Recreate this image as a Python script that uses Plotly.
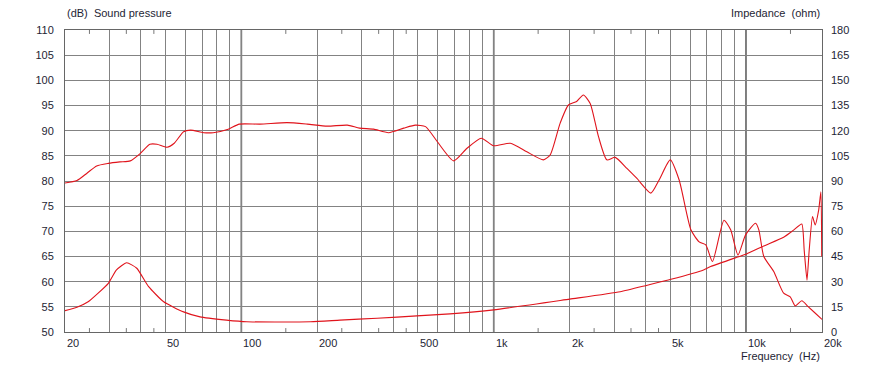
import math
import plotly.graph_objects as go

# ---- data ----
spl_freq = [20, 22.3, 24.5, 26.7, 29.7, 33, 36.3, 39.6, 43.4, 46.3, 50.7, 54.2, 59, 62.9,
            70.9, 77.3, 88.7, 98.1, 118.6, 151.6, 182.6, 219, 263, 294, 334, 383, 440,
            489, 537, 596, 694, 784, 893, 999, 1164, 1353, 1574, 1675, 1834, 1978, 2131,
            2266, 2412, 2602, 2808, 3030, 3372, 3695, 4198, 4523, 5007, 5432, 6046, 6522,
            6927, 7360, 8176, 8691, 9292, 9960, 10909, 11239, 11762, 12876, 14094, 14968,
            15660, 16633, 17670, 19800, 20000]
spl_db = [79.6, 80.1, 81.6, 83.0, 83.5, 83.8, 84.0, 85.4, 87.3, 87.3, 86.7, 87.5, 89.8, 90.1,
          89.6, 89.6, 90.3, 91.3, 91.3, 91.6, 91.3, 90.9, 91.1, 90.5, 90.3, 89.6, 90.5,
          91.1, 90.8, 87.9, 84.0, 86.5, 88.5, 87.0, 87.5, 85.8, 84.2, 85.2, 91.5, 95.1, 95.8,
          97.1, 95.4, 88.8, 84.2, 84.7, 82.5, 80.5, 77.6, 80.2, 84.2, 80.2, 70.3, 67.9,
          67.3, 64.0, 72.2, 70.3, 65.3, 69.3, 71.6, 70.3, 65.0, 62.0, 57.7, 57.0,
          55.2, 56.2, 55.0, 52.7, 52.5]

imp_freq = [20, 22.3, 24.7, 27, 29.7, 32, 35.1, 38.5, 42.9, 49.2, 59, 68.6, 87.3, 105, 188,
            246, 345, 496, 671, 1000, 2000, 3172, 4060, 5040, 6785, 7240, 9190, 10050,
            11762, 14094, 15326, 16633, 17000, 17441, 17800, 18341, 18792, 19400, 19800, 19950]
imp_ohm = [12.7, 14.7, 18, 23, 29, 37, 41.3, 38, 27, 18, 12, 9, 7.1, 6.1, 6.1,
           7.1, 8.2, 9.6, 10.8, 13.2, 19.6, 24, 27.9, 31.4, 37, 39, 44.5, 46.5,
           51.3, 56.5, 60.4, 64.4, 48.8, 30.9, 49, 68.8, 63.8, 72.6, 83.6, 45]

grid_freqs = [20, 30, 40, 50, 60, 70, 80, 90, 100, 200, 300, 400, 500, 600, 700, 800, 900,
              1000, 2000, 3000, 4000, 5000, 6000, 7000, 8000, 9000, 10000, 20000]
decade_freqs = [100, 1000, 10000]
minor_freqs = [25, 35, 45, 150, 250, 350, 450, 1500, 2500, 3500, 4500, 15000]
x_label_vals = [20, 50, 100, 200, 500, 1000, 2000, 5000, 10000, 20000]
x_label_text = ["20", "50", "100", "200", "500", "1k", "2k", "5k", "10k", "20k"]

FONT = "Liberation Sans, Arial, sans-serif"
TXT = "#1e1e34"
RED = "#e0141c"
GRID = "#838383"

fig = go.Figure()
fig.add_trace(go.Scatter(x=spl_freq, y=spl_db, mode="lines", yaxis="y",
                         line=dict(color=RED, width=1.1, shape="spline", smoothing=0.6),
                         showlegend=False, hoverinfo="skip"))
fig.add_trace(go.Scatter(x=imp_freq, y=imp_ohm, mode="lines", yaxis="y2",
                         line=dict(color=RED, width=1.1, shape="spline", smoothing=0.5),
                         showlegend=False, hoverinfo="skip"))

shapes = []
for f in decade_freqs:
    shapes.append(dict(type="line", xref="x", yref="paper", x0=f, x1=f, y0=0, y1=1,
                       line=dict(color="#555555", width=1.6), layer="below"))
for f in minor_freqs:
    for (a, b) in [(0, 0.013), (1, 0.987)]:
        shapes.append(dict(type="line", xref="x", yref="paper", x0=f, x1=f, y0=a, y1=b,
                           line=dict(color="#777777", width=1), layer="below"))

annotations = []
for v, t in zip(x_label_vals, x_label_text):
    annotations.append(dict(x=math.log10(v), y=-0.036, xref="x", yref="paper", text=t,
                            showarrow=False, xanchor="left", yanchor="middle",
                            font=dict(family=FONT, size=11, color=TXT)))
annotations += [
    dict(x=0, y=1.056, xref="paper", yref="paper", text="(dB)\u00a0 Sound pressure",
         showarrow=False, xanchor="left", yanchor="middle",
         font=dict(family=FONT, size=11, color=TXT)),
    dict(x=1, y=1.056, xref="paper", yref="paper", text="Impedance\u00a0 (ohm)",
         showarrow=False, xanchor="right", yanchor="middle",
         font=dict(family=FONT, size=11, color=TXT)),
    dict(x=1, y=-0.079, xref="paper", yref="paper", text="Frequency\u00a0 (Hz)",
         showarrow=False, xanchor="right", yanchor="middle",
         font=dict(family=FONT, size=11, color=TXT)),
]

fig.update_layout(
    width=886, height=367,
    margin=dict(l=65, r=64, t=30, b=35),
    paper_bgcolor="white", plot_bgcolor="white",
    font=dict(family=FONT, size=11, color=TXT),
    xaxis=dict(type="log", range=[math.log10(20), math.log10(20000)],
               tickmode="array", tickvals=grid_freqs, showticklabels=False,
               showgrid=True, gridcolor=GRID, gridwidth=1, ticks="",
               showline=True, linecolor="#666666", linewidth=1, mirror=True,
               zeroline=False),
    yaxis=dict(range=[50, 110], dtick=5, tick0=50, showgrid=True, gridcolor=GRID,
               gridwidth=1, ticks="", ticklabelstandoff=8,
               showline=True, linecolor="#666666", linewidth=1, mirror=True,
               zeroline=False, tickfont=dict(family=FONT, size=11, color=TXT)),
    yaxis2=dict(range=[0, 180], dtick=15, tick0=0, overlaying="y", side="right",
                showgrid=False, ticks="", ticklabelstandoff=8, zeroline=False,
                tickfont=dict(family=FONT, size=11, color=TXT)),
    shapes=shapes,
    annotations=annotations,
)

fig.write_html("out.html")
